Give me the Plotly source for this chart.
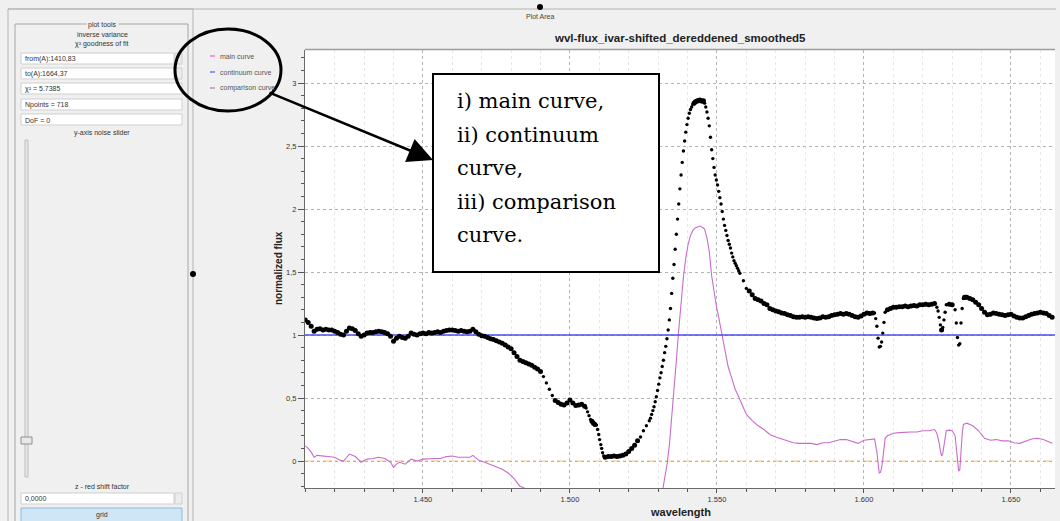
import plotly.graph_objects as go

# ---------------- data ----------------
# main curve, flat blue side + descent
wl_blue = [1.410, 1.411, 1.412, 1.413, 1.414, 1.415, 1.416, 1.417, 1.418, 1.419,
           1.420, 1.421, 1.422, 1.423, 1.424, 1.425, 1.426, 1.427, 1.428, 1.429,
           1.430, 1.431, 1.432, 1.433, 1.434, 1.435, 1.436, 1.437, 1.438, 1.439,
           1.440, 1.441, 1.442, 1.443, 1.444, 1.445, 1.446, 1.447, 1.448, 1.449,
           1.450, 1.451, 1.452, 1.453, 1.454, 1.455, 1.456, 1.457, 1.458, 1.459,
           1.460, 1.461, 1.462, 1.463, 1.464, 1.465, 1.466, 1.467, 1.468, 1.469,
           1.470, 1.471, 1.472, 1.473, 1.474, 1.475, 1.476, 1.477, 1.478, 1.479,
           1.480, 1.481, 1.482, 1.483, 1.484, 1.485, 1.486, 1.487, 1.488, 1.489,
           1.490, 1.491, 1.492, 1.493, 1.494, 1.495, 1.496, 1.497, 1.498, 1.499,
           1.500, 1.501, 1.502, 1.503, 1.504]
fx_blue = [1.12, 1.10, 1.07, 1.03, 1.045, 1.05, 1.04, 1.045, 1.04, 1.04,
           1.03, 1.02, 1.005, 1.0, 1.03, 1.055, 1.05, 1.035, 1.01, 0.99,
           1.0, 1.015, 1.02, 1.02, 1.025, 1.03, 1.025, 1.02, 1.01, 0.99,
           0.95, 0.975, 0.99, 0.98, 0.975, 0.99, 1.015, 1.005, 1.0, 1.01,
           1.015, 1.01, 1.02, 1.015, 1.02, 1.025, 1.02, 1.03, 1.035, 1.04,
           1.04, 1.035, 1.03, 1.035, 1.03, 1.025, 1.03, 1.045, 1.025, 1.005,
           0.995, 0.99, 0.98, 0.97, 0.965, 0.955, 0.945, 0.935, 0.92, 0.905,
           0.89, 0.86, 0.83, 0.80, 0.79, 0.78, 0.77, 0.76, 0.745, 0.73,
           0.71, 0.67, 0.62, 0.57, 0.52, 0.48, 0.465, 0.45, 0.445, 0.46,
           0.485, 0.46, 0.44, 0.445, 0.45]

# main curve, absorption trough
wl_trough = [1.5050, 1.5055, 1.5060, 1.5065, 1.5070, 1.5075, 1.5080, 1.5085, 1.5090, 1.5094,
             1.5098, 1.5101, 1.5105, 1.5108, 1.5111, 1.5115, 1.5120,
             1.513, 1.514, 1.515, 1.516, 1.517, 1.518, 1.519, 1.520, 1.521, 1.522,
             1.523, 1.524, 1.525, 1.526, 1.527]
fx_trough = [0.435, 0.42, 0.39, 0.36, 0.33, 0.315, 0.30, 0.29, 0.285, 0.25,
             0.21, 0.17, 0.13, 0.10, 0.065, 0.04, 0.03,
             0.035, 0.035, 0.04, 0.035, 0.04, 0.045, 0.055, 0.075, 0.10, 0.125,
             0.16, 0.19, 0.24, 0.28, 0.32]

# main curve, emission peak
wl_peak = [1.5274, 1.5278, 1.5282, 1.5286, 1.5290, 1.5294, 1.5298, 1.5302, 1.5306, 1.5310,
           1.5314, 1.5318, 1.5322, 1.5326, 1.5330, 1.5334, 1.5338, 1.5342, 1.5346, 1.5350,
           1.5354, 1.5358, 1.5362, 1.5366, 1.5370, 1.5374, 1.5378, 1.5382, 1.5386, 1.5390,
           1.5394, 1.5398, 1.5402, 1.5406, 1.5410, 1.5414, 1.5418, 1.5422, 1.5426, 1.5430,
           1.5434, 1.5438, 1.5442, 1.5446, 1.5450, 1.5454, 1.5458, 1.5462, 1.5466, 1.5470,
           1.5474, 1.5478, 1.5482, 1.5486, 1.5490, 1.5494, 1.5498, 1.5502, 1.5506, 1.5510,
           1.5514, 1.5518, 1.5522, 1.5526, 1.5530, 1.5534, 1.5538, 1.5542, 1.5546, 1.5550,
           1.5554, 1.5558, 1.5562, 1.5566, 1.5570, 1.5574, 1.5578]
fx_peak = [0.34, 0.37, 0.40, 0.43, 0.47, 0.51, 0.56, 0.61, 0.66, 0.70,
           0.75, 0.80, 0.86, 0.91, 0.97, 1.04, 1.12, 1.21, 1.33, 1.45,
           1.56, 1.68, 1.80, 1.92, 2.04, 2.16, 2.27, 2.37, 2.46, 2.54,
           2.61, 2.67, 2.72, 2.76, 2.79, 2.81, 2.83, 2.84, 2.85, 2.855,
           2.86, 2.86, 2.865, 2.86, 2.855, 2.86, 2.84, 2.81, 2.77, 2.72,
           2.66, 2.57, 2.47, 2.40, 2.33, 2.27, 2.23, 2.19, 2.14, 2.09,
           2.04, 1.98, 1.92, 1.87, 1.83, 1.79, 1.75, 1.72, 1.69, 1.65,
           1.62, 1.59, 1.57, 1.55, 1.53, 1.51, 1.49]

# main curve, red side with three narrow absorption lines
wl_red = [1.559, 1.560, 1.561, 1.562, 1.563, 1.564, 1.565, 1.566, 1.567, 1.568,
          1.569, 1.570, 1.571, 1.572, 1.573, 1.574, 1.575, 1.576, 1.577, 1.578,
          1.579, 1.580, 1.581, 1.582, 1.583, 1.584, 1.585, 1.586, 1.587, 1.588,
          1.589, 1.590, 1.591, 1.592, 1.593, 1.594, 1.595, 1.596, 1.597, 1.598,
          1.599, 1.600, 1.601, 1.602, 1.603,
          1.6036, 1.6040, 1.6044, 1.6048, 1.6052, 1.6056, 1.6060, 1.6064, 1.6068, 1.6072,
          1.608, 1.609, 1.610, 1.611, 1.612, 1.613, 1.614, 1.615, 1.616, 1.617,
          1.618, 1.619, 1.620, 1.621, 1.622, 1.623, 1.624,
          1.6248, 1.6252, 1.6256, 1.6260, 1.6264, 1.6268, 1.6272, 1.6276, 1.6280,
          1.629, 1.630, 1.631,
          1.6314, 1.6318, 1.6322, 1.6326, 1.6330, 1.6334, 1.6338, 1.6342, 1.6346,
          1.635, 1.636, 1.637, 1.638, 1.639, 1.640, 1.641, 1.642, 1.643, 1.644,
          1.645, 1.646, 1.647, 1.648, 1.649, 1.650, 1.651, 1.652, 1.653, 1.654,
          1.655, 1.656, 1.657, 1.658, 1.659, 1.660, 1.661, 1.662, 1.663, 1.664]
fx_red = [1.43, 1.37, 1.35, 1.32, 1.29, 1.28, 1.27, 1.25, 1.24, 1.21,
          1.20, 1.19, 1.185, 1.175, 1.17, 1.16, 1.155, 1.145, 1.14, 1.14,
          1.145, 1.14, 1.145, 1.14, 1.135, 1.13, 1.135, 1.145, 1.14, 1.145,
          1.155, 1.16, 1.165, 1.17, 1.165, 1.17, 1.165, 1.155, 1.145, 1.14,
          1.15, 1.165, 1.175, 1.17, 1.175,
          1.175, 1.13, 1.07, 0.975, 0.905, 0.91, 0.945, 1.015, 1.10, 1.18,
          1.20, 1.21, 1.22, 1.22, 1.225, 1.225, 1.23, 1.225, 1.23, 1.235,
          1.23, 1.24, 1.24, 1.245, 1.24, 1.245, 1.25,
          1.22, 1.19, 1.14, 1.08, 1.04, 1.06, 1.12, 1.18, 1.24,
          1.245, 1.24, 1.20,
          1.095, 0.98, 0.92, 0.93, 1.095, 1.21, 1.29, 1.30, 1.30,
          1.30, 1.29, 1.28, 1.26, 1.24, 1.21, 1.18, 1.16, 1.165, 1.175,
          1.17, 1.165, 1.16, 1.155, 1.16, 1.165, 1.15, 1.14, 1.135, 1.135,
          1.145, 1.155, 1.165, 1.17, 1.175, 1.18, 1.175, 1.17, 1.155, 1.14]

# continuum curve
continuum_wl = [1.4099, 1.665]
continuum_fx = [1.0, 1.0]

# comparison curve
comparison_wl = [1.410, 1.411, 1.412, 1.413, 1.414, 1.416, 1.418, 1.420, 1.422, 1.423,
                 1.425, 1.427, 1.429, 1.431, 1.433, 1.435, 1.437, 1.439, 1.440, 1.441,
                 1.442, 1.444, 1.446, 1.448, 1.450, 1.452, 1.454, 1.456, 1.458, 1.460,
                 1.462, 1.464, 1.466, 1.467, 1.469, 1.471, 1.473, 1.475, 1.477, 1.479,
                 1.481, 1.483, 1.485, 1.490, 1.500, 1.512, 1.520, 1.527, 1.5298, 1.5314,
                 1.5322, 1.5330, 1.5338, 1.5346, 1.5354, 1.5362, 1.5370, 1.5378, 1.5386, 1.5394,
                 1.5402, 1.5410, 1.5418, 1.5426, 1.5434, 1.5442, 1.5450, 1.5458, 1.5466, 1.5474,
                 1.5482, 1.5490, 1.5498, 1.5506, 1.5514, 1.5522, 1.5530, 1.5538, 1.5546, 1.5554,
                 1.5562, 1.5570, 1.5578, 1.559, 1.560, 1.562, 1.564, 1.566, 1.568, 1.570,
                 1.572, 1.574, 1.576, 1.578, 1.580, 1.582, 1.584, 1.586, 1.588, 1.590,
                 1.592, 1.594, 1.596, 1.598, 1.600, 1.602, 1.6036, 1.6044, 1.6048, 1.6052,
                 1.6056, 1.6060, 1.6064, 1.6068, 1.6072, 1.608, 1.610, 1.612, 1.614, 1.616,
                 1.618, 1.620, 1.622, 1.624, 1.6248, 1.6252, 1.6256, 1.6260, 1.6264, 1.6268,
                 1.6272, 1.6276, 1.6280, 1.629, 1.630, 1.631, 1.6314, 1.6318, 1.6322, 1.6326,
                 1.6330, 1.6334, 1.6338, 1.635, 1.637, 1.639, 1.641, 1.643, 1.645, 1.647,
                 1.649, 1.651, 1.653, 1.655, 1.657, 1.659, 1.661, 1.663, 1.664]
comparison_fx = [0.12, 0.10, 0.07, 0.03, 0.045, 0.04, 0.04, 0.03, 0.005, 0.0,
                 0.055, 0.035, -0.01, 0.015, 0.02, 0.03, 0.02, -0.01, -0.05, -0.025,
                 -0.01, -0.025, 0.015, 0.0, 0.015, 0.02, 0.02, 0.02, 0.035, 0.04,
                 0.03, 0.03, 0.03, 0.045, 0.005, -0.01, -0.03, -0.045, -0.065, -0.095,
                 -0.14, -0.20, -0.22, -0.29, -0.515, -0.97, -0.925, -0.68, -0.44, -0.25,
                 -0.14, -0.03, 0.12, 0.33, 0.56, 0.80, 1.04, 1.27, 1.46, 1.61,
                 1.72, 1.79, 1.83, 1.85, 1.86, 1.865, 1.855, 1.84, 1.77, 1.66,
                 1.47, 1.33, 1.23, 1.14, 1.04, 0.92, 0.83, 0.75, 0.69, 0.62,
                 0.57, 0.53, 0.49, 0.43, 0.37, 0.32, 0.28, 0.25, 0.21, 0.19,
                 0.175, 0.16, 0.145, 0.14, 0.14, 0.14, 0.13, 0.145, 0.145, 0.16,
                 0.17, 0.17, 0.155, 0.14, 0.165, 0.17, 0.175, 0.07, -0.025, -0.095,
                 -0.09, -0.055, 0.015, 0.10, 0.18, 0.20, 0.22, 0.225, 0.23, 0.23,
                 0.23, 0.24, 0.24, 0.25, 0.22, 0.19, 0.14, 0.08, 0.04, 0.06,
                 0.12, 0.18, 0.24, 0.245, 0.24, 0.20, 0.095, -0.02, -0.08, -0.07,
                 0.095, 0.21, 0.29, 0.30, 0.28, 0.24, 0.18, 0.165, 0.17, 0.16,
                 0.16, 0.145, 0.14, 0.155, 0.175, 0.18, 0.17, 0.15, 0.14]

y_tick_values = [0, 0.5, 1, 1.5, 2, 2.5, 3]
y_tick_labels = ["0", "0,5", "1", "1,5", "2", "2,5", "3"]

panel_fields = ["from(A):1410,83", "to(A):1664,37", "χ² = 5.7385", "Npoints = 718", "DoF = 0"]
legend_names = ["main curve", "continuum curve", "comparison curve"]
legend_colors = ["#f25fc8", "#5a5af0", "#c070c8"]
note_lines = ["i) main curve,", "ii) continuum", "curve,", "iii) comparison", "curve."]

main_wl = wl_blue + wl_trough + wl_peak + wl_red
main_fx = fx_blue + fx_trough + fx_peak + fx_red

# ---------------- layout geometry ----------------
W, H = 1060, 521
L, R, T, B = 305, 1055, 50, 488
X_RANGE = [1.4099, 1.66497]
Y_RANGE = [-0.2143, 3.2619]


def px(x):
    return (x - L) / (R - L)


def py(y):
    return (B - y) / (B - T)


# marker size: dense-looking where the curve is flat, small single dots where steep
xs = (R - L) / (X_RANGE[1] - X_RANGE[0])
ys = (B - T) / (Y_RANGE[1] - Y_RANGE[0])
main_sizes = []
for i in range(len(main_wl)):
    j0, j1 = max(i - 1, 0), min(i + 1, len(main_wl) - 1)
    dxp = abs(main_wl[j1] - main_wl[j0]) * xs
    dyp = abs(main_fx[j1] - main_fx[j0]) * ys
    main_sizes.append(3.4 if dyp > 1.6 * dxp else 5.0)

fig = go.Figure()
fig.add_trace(go.Scatter(x=comparison_wl, y=comparison_fx, mode="lines",
                         line=dict(color="#c86ccc", width=1.1), hoverinfo="skip"))
fig.add_trace(go.Scatter(x=continuum_wl, y=continuum_fx, mode="lines",
                         line=dict(color="#4d4df2", width=1.3), hoverinfo="skip"))
fig.add_trace(go.Scatter(x=main_wl, y=main_fx, mode="markers",
                         marker=dict(color="#000000", size=main_sizes, opacity=1,
                                     line=dict(width=0)),
                         hoverinfo="skip"))

shapes = []
annots = []
SMALL = dict(family="Liberation Sans", size=7, color="#333333")


def rect(x0, y0, x1, y1, fill=None, line="#c8c8c8", width=1, layer="above"):
    shapes.append(dict(type="rect", xref="paper", yref="paper",
                       x0=px(x0), x1=px(x1), y0=py(y0), y1=py(y1),
                       fillcolor=fill if fill else "rgba(0,0,0,0)",
                       line=dict(color=line, width=width), layer=layer))


def hline(x0, x1, y, color, width=1, dash="solid"):
    shapes.append(dict(type="line", xref="paper", yref="paper",
                       x0=px(x0), x1=px(x1), y0=py(y), y1=py(y),
                       line=dict(color=color, width=width, dash=dash)))


def text(x, y, s, font=SMALL, xanchor="center", **kw):
    annots.append(dict(xref="paper", yref="paper", x=px(x), y=py(y), text=s,
                       showarrow=False, xanchor=xanchor, yanchor="middle",
                       font=font, **kw))


# zero reference line (dash-dot orange)
shapes.append(dict(type="line", xref="paper", yref="y", x0=0, x1=1, y0=0, y1=0,
                   line=dict(color="#f2c27a", width=1, dash="dashdot"), layer="below"))

# outer frames
hline(8, 1056, 9, "#b4b4b4")
rect(8, 9, 193, 540, line="#b4b4b4")
rect(15, 24, 188, 540, line="#a6a6a6")
hline(305, 1055, 49.5, "#9c9c9c", width=1.5)

# left panel fields
field_tops = [53, 68, 83, 99, 114]
for i, (label, top) in enumerate(zip(panel_fields, field_tops)):
    right = 174 if i < 2 else 182
    rect(21, top, right, top + 11, fill="white", line="#cfcfcf")
    if i < 2:
        rect(175, top, 182, top + 11, fill="#ececec", line="#cfcfcf")
    text(23, top + 6, label, xanchor="left")

text(102, 25, "plot tools", bgcolor="#f0f0f0")
text(102, 34, "inverse variance")
text(102, 44, "χ² goodness of fit")
text(102, 133, "y-axis noise slider")

# slider
rect(25, 140, 28, 477, fill="#e6e6e6", line="#bdbdbd")
rect(21, 437, 32, 444, fill="#e8e8e8", line="#8f8f8f")

text(102, 486, "z - red shift factor")
rect(21, 493, 174, 504, fill="white", line="#cfcfcf")
rect(175, 493, 182, 504, fill="#ececec", line="#cfcfcf")
text(23, 498.5, "0,0000", xanchor="left")
rect(21, 508, 182, 526, fill="#cfe6f7", line="#8cbbe0")
text(102, 515, "grid")

# splitter dots
for cx, cy in [(193, 274), (540, 7)]:
    shapes.append(dict(type="circle", xref="paper", yref="paper",
                       x0=px(cx - 3), x1=px(cx + 3), y0=py(cy + 3), y1=py(cy - 3),
                       fillcolor="black", line=dict(color="black", width=0)))
text(540, 17, "Plot Area", font=dict(family="Liberation Sans", size=7, color="#444444"))

# legend of the plot widget
for name, color, yy in zip(legend_names, legend_colors, [56, 72, 88]):
    hline(210, 215, yy, color, width=1.2)
    text(218, yy, name, font=dict(family="Liberation Sans", size=7, color="#555555"),
         xanchor="left")

# ellipse around legend
shapes.append(dict(type="circle", xref="paper", yref="paper",
                   x0=px(175), x1=px(281), y0=py(111), y1=py(29),
                   line=dict(color="black", width=3)))

# note box
rect(433, 74, 659, 272, fill="white", line="black", width=2)
for s, yy in zip(note_lines, [101, 135, 168, 202, 235]):
    text(455, yy, s, font=dict(family="DejaVu Serif", size=21, color="black"),
         xanchor="left")

# arrow from legend to the note box
annots.append(dict(xref="paper", yref="paper", x=px(433), y=py(160), ax=-165, ay=-68,
                   text="", showarrow=True, arrowhead=2, arrowsize=2, arrowwidth=2.5,
                   arrowcolor="black", standoff=0))

# titles
text(680, 38, "<b>wvl-flux_ivar-shifted_dereddened_smoothed5</b>",
     font=dict(family="Liberation Sans", size=11.5, color="#222222"))
text(680, 512, "<b>wavelength</b>",
     font=dict(family="Liberation Sans", size=11, color="#222222"))
text(278, 268, "<b>normalized flux</b>",
     font=dict(family="Liberation Sans", size=10, color="#222222"), textangle=-90)

fig.update_layout(
    width=W, height=H,
    margin=dict(l=L, r=W - R, t=T, b=H - B, pad=0, autoexpand=False),
    paper_bgcolor="#f0f0f0", plot_bgcolor="white",
    showlegend=False,
    shapes=shapes, annotations=annots,
    xaxis=dict(range=X_RANGE, tick0=1.45, dtick=0.05, tickformat=".3f",
               showgrid=True, gridcolor="#b4b4b4", griddash="dot", gridwidth=1,
               zeroline=False, showline=True, linecolor="#6a6a6a", linewidth=1,
               ticks="outside", ticklen=4, tickcolor="#555555",
               tickfont=dict(family="Liberation Sans", size=7.5, color="#333333"),
               minor=dict(tickmode="linear", tick0=1.40, dtick=0.01, showgrid=True,
                          gridcolor="#e8e8e8", griddash="dot", ticks="outside",
                          ticklen=3, tickcolor="#555555")),
    yaxis=dict(range=Y_RANGE, tickmode="array", tickvals=y_tick_values,
               ticktext=y_tick_labels,
               showgrid=True, gridcolor="#b4b4b4", griddash="dot", gridwidth=1,
               zeroline=False, showline=True, linecolor="#6a6a6a", linewidth=1,
               ticks="outside", ticklen=6, tickcolor="#555555",
               tickfont=dict(family="Liberation Sans", size=7.5, color="#333333"),
               minor=dict(tickmode="linear", tick0=0, dtick=0.1, showgrid=False,
                          ticks="outside", ticklen=3, tickcolor="#555555")),
)

fig.write_html("out.html")
